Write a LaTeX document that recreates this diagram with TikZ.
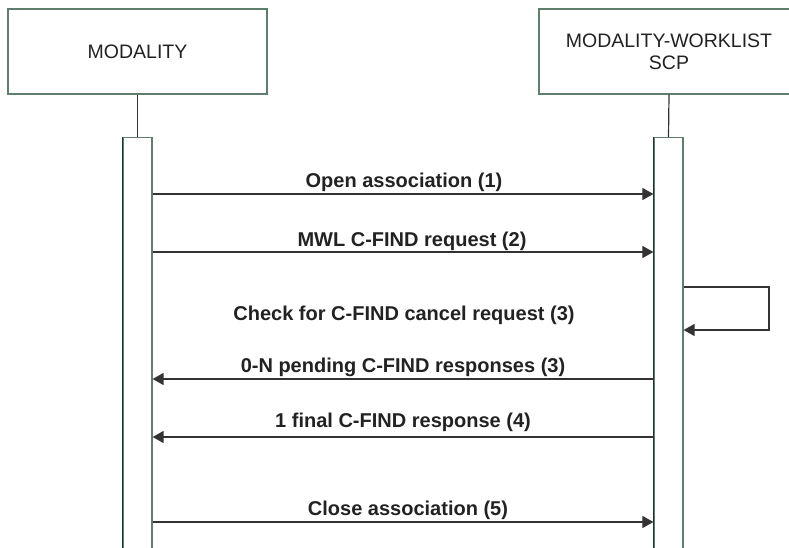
\documentclass[tikz,border=0pt]{standalone}
\usepackage{fontspec}
\setmainfont{Liberation Sans}
\usetikzlibrary{arrows.meta}
\definecolor{boxgreen}{HTML}{5E7E6E}
\definecolor{darkgreen}{HTML}{173827}
\definecolor{txt}{HTML}{222222}
\definecolor{linec}{HTML}{333333}
\begin{document}
\begin{tikzpicture}[x=1pt,y=-1pt,
  header/.style={draw=boxgreen,line width=1.2pt,rectangle,minimum width=259pt,minimum height=85pt,inner sep=0pt,
    font=\fontsize{19.5}{22}\selectfont,text=txt,align=center},
  actbox/.style={draw=boxgreen,line width=1.2pt,rectangle,minimum width=29pt,minimum height=430pt,inner sep=0pt,anchor=north},
  msg/.style={draw=linec,line width=1.3pt,-{Triangle[length=11pt,width=12pt]}},
  lbl/.style={font=\bfseries\fontsize{20}{22}\selectfont,text=txt,anchor=base,inner sep=0pt},
  life/.style={draw=linec,line width=1.2pt}]
\useasboundingbox (0,0) rectangle (789,548);
\clip (0,0) rectangle (789,548);
\fill[white] (0,0) rectangle (789,548);
% headers
\node[header] (mod) at (137.5,51.5) {MODALITY};
\node[header,minimum width=260pt] (scp) at (669,51.5) {MODALITY-WORKLIST\\SCP};
% activation boxes
\node[actbox] (act1) at (137.5,137) {};
\node[actbox] (act2) at (668.5,137) {};
\draw[darkgreen,line width=1.2pt] (act1.north west) -- (act1.south west);
\draw[darkgreen,line width=1.2pt] (act2.north west) -- (act2.south west);
% lifeline stubs
\draw[life] (mod.south) -- (act1.north);
\draw[life] (scp.south) -- (act2.north);
% messages
\draw[msg] (act1.east |- 0,194) -- (act2.west |- 0,194);
\node[lbl] (l1) at (404,188) {Open association (1)};
\draw[msg] (act1.east |- 0,252) -- (act2.west |- 0,252);
\node[lbl] (l2) at (412,246) {MWL C-FIND request (2)};
\coordinate (c1) at (769,287);
\coordinate (c2) at (769,330);
\draw[msg] (act2.east |- c1) -- (c1) -- (c2) -- (act2.east |- c2);
\node[lbl] (l3) at (404,320) {Check for C-FIND cancel request (3)};
\draw[msg] (act2.west |- 0,379) -- (act1.east |- 0,379);
\node[lbl] (l4) at (403,372) {0-N pending C-FIND responses (3)};
\draw[msg] (act2.west |- 0,437) -- (act1.east |- 0,437);
\node[lbl] (l5) at (403,427) {1 final C-FIND response (4)};
\draw[msg] (act1.east |- 0,522) -- (act2.west |- 0,522);
\node[lbl] (l6) at (408,515) {Close association (5)};
\end{tikzpicture}
\end{document}
